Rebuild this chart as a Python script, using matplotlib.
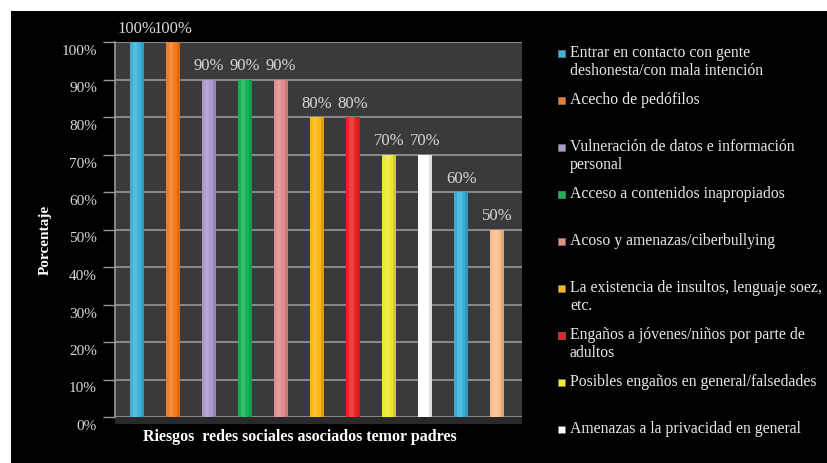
import matplotlib
matplotlib.use("Agg")
import matplotlib.pyplot as plt
import matplotlib.transforms as mtransforms
from matplotlib.patches import Rectangle

# ---- data ----
legend_labels = [
    "Entrar en contacto con gente\ndeshonesta/con mala intención",
    "Acecho de pedófilos",
    "Vulneración de datos e información\npersonal",
    "Acceso a contenidos inapropiados",
    "Acoso y amenazas/ciberbullying",
    "La existencia de insultos, lenguaje soez,\netc.",
    "Engaños a jóvenes/niños por parte de\nadultos",
    "Posibles engaños en general/falsedades",
    "Amenazas a la privacidad en general",
]
values = [1.00, 1.00, 0.90, 0.90, 0.90, 0.80, 0.80, 0.70, 0.70, 0.60, 0.50]
value_labels = ["100%", "100%", "90%", "90%", "90%", "80%", "80%", "70%", "70%", "60%", "50%"]
bar_colors = ["#3ab3d6", "#f47b20", "#ab98cc", "#17b158", "#e08e8e", "#fdb517",
              "#ec2222", "#ece92a", "#ffffff", "#36b0d8", "#fbbd8a"]
yticks = [0, 0.1, 0.2, 0.3, 0.4, 0.5, 0.6, 0.7, 0.8, 0.9, 1.0]
ytick_labels = ["0%", "10%", "20%", "30%", "40%", "50%", "60%", "70%", "80%", "90%", "100%"]
xlabel = "Riesgos  redes sociales asociados temor padres"
ylabel = "Porcentaje"

W, H = 827, 464
fig = plt.figure(figsize=(W / 100, H / 100), dpi=100)
fig.patch.set_facecolor("white")

# black panel
fig.add_artist(Rectangle((11 / W, 0), 1 - 11 / W, 1 - 12 / H,
                         transform=fig.transFigure, facecolor="black",
                         edgecolor="none", zorder=0))

serif = ["Liberation Serif", "DejaVu Serif"]

ax_left, ax_right = 115, 522
ax_top, ax_bot = 43, 418
ax = fig.add_axes([ax_left / W, 1 - ax_bot / H, (ax_right - ax_left) / W,
                   (ax_bot - ax_top) / H])
ax.set_facecolor("#3a3a3c")
ax.set_ylim(0, 1.0)
ax.set_xlim(-0.61, 10.69)

x = list(range(len(values)))
bw = 0.40
ax.bar(x, values, width=bw, color=bar_colors, zorder=3, edgecolor="none")
# cylinder shading
ax.bar([xi - bw * 0.14 for xi in x], values, width=bw * 0.34, color="white",
       alpha=0.15, zorder=4, edgecolor="none")
ax.bar([xi + bw * 0.40 for xi in x], values, width=bw * 0.20, color="black",
       alpha=0.12, zorder=4, edgecolor="none")

for xi, v, lab in zip(x, values, value_labels):
    ax.text(xi, v + 0.038, lab, ha="center", va="center", fontsize=12,
            color="#d8d8d8", family=serif, clip_on=False)

ax.set_yticks(yticks)
ax.set_yticklabels(ytick_labels, fontsize=11, color="#d8d8d8", family=serif)
ax.tick_params(axis="y", length=9, width=1, color="#9a9a9a", pad=4)
offset = mtransforms.ScaledTranslation(0, -7 / 100, fig.dpi_scale_trans)
for lbl in ax.get_yticklabels():
    lbl.set_transform(lbl.get_transform() + offset)
ax.set_xticks([])
ax.grid(axis="y", color="#8a8a8a", linewidth=1.4, zorder=1)
ax.set_axisbelow(True)
for s in ["top", "right", "bottom"]:
    ax.spines[s].set_visible(False)
ax.spines["left"].set_color("#9a9a9a")
ax.spines["left"].set_linewidth(1.2)

# floor
ax.add_patch(Rectangle((-0.61, -0.018), 11.3, 0.018, transform=ax.transData,
                       facecolor="#2a2a2c", edgecolor="none", clip_on=False, zorder=2))

fig.text(300 / W, 1 - 437 / H, xlabel, ha="center", va="center", fontsize=11.5,
         fontweight="bold", color="white", family=serif)
fig.text(45 / W, 1 - 240 / H, ylabel, ha="center", va="center", rotation=90,
         fontsize=11, fontweight="bold", color="white", family=serif)

# legend (first nine entries visible)
y0, step = 54, 47.0
for i, lab in enumerate(legend_labels):
    yy = y0 + i * step
    fig.add_artist(Rectangle((558 / W, 1 - (yy + 3.5) / H), 7 / W, 7 / H,
                             transform=fig.transFigure, facecolor=bar_colors[i],
                             edgecolor="#777777", linewidth=0.5, zorder=5))
    fig.text(570 / W, 1 - (yy - 9) / H, lab, ha="left", va="top", fontsize=11.3,
             color="#e8e8e8", family=serif, linespacing=1.15)

fig.savefig("out.png", dpi=100, facecolor=fig.get_facecolor())
